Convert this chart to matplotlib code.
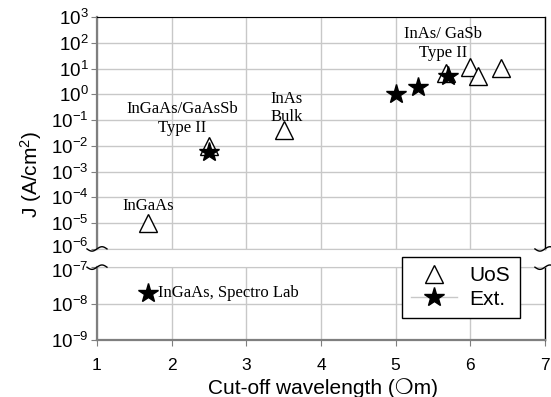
import numpy as np
import matplotlib
matplotlib.use('Agg')
import matplotlib.pyplot as plt
import matplotlib.transforms as mtransforms
from matplotlib.lines import Line2D

plt.rcParams['font.family'] = ['Liberation Sans', 'DejaVu Sans']
plt.rcParams['mathtext.fontset'] = 'custom'
plt.rcParams['mathtext.rm'] = 'Liberation Sans'
plt.rcParams['mathtext.it'] = 'Liberation Sans:italic'

# UoS devices (open triangles)
uos_x = [1.68, 2.5, 3.5, 5.67, 6.0, 6.1, 6.41]
uos_j = [1e-5, 1e-2, 0.04, 7.0, 12.0, 5.0, 11.0]

# external results (stars)
ext_x = [2.5, 5.0, 5.3, 5.7]
ext_j = [6e-3, 1.0, 2.0, 5.0]
ext_low_x = [1.68]
ext_low_j = [2e-8]

grid_col = '#c8c8c8'
spine_col = '#7f7f7f'

fig = plt.figure(figsize=(5.51, 3.97), dpi=100)
ax_top = fig.add_axes([0.176, 0.373, 0.813, 0.584])
ax_bot = fig.add_axes([0.176, 0.1436, 0.813, 0.1834])

for ax in (ax_top, ax_bot):
    ax.set_yscale('log')
    ax.set_xlim(1, 7)
    ax.set_xticks(range(1, 8))
    ax.grid(True, color=grid_col, lw=1.0)
    ax.set_axisbelow(True)
    ax.tick_params(axis='y', which='major', direction='out', length=4, color=spine_col,
                   labelsize=13.5, pad=2)
    ax.tick_params(axis='y', which='minor', left=False)
    ax.spines['left'].set_color(spine_col)
    ax.spines['left'].set_linewidth(1.6)
    ax.spines['right'].set_color('black')
    ax.spines['right'].set_linewidth(1.0)

ax_top.set_ylim(1e-6, 1e3)
ax_top.set_yticks([10.0 ** k for k in range(-6, 4)])
ax_top.tick_params(axis='x', bottom=False, labelbottom=False)
ax_top.spines['top'].set_color('black')
ax_top.spines['bottom'].set_color(grid_col)

ax_bot.set_ylim(1e-9, 1e-7)
ax_bot.set_yticks([1e-9, 1e-8, 1e-7])
ax_bot.tick_params(axis='x', direction='out', length=4, color=spine_col, labelsize=12.5, pad=9)
ax_bot.spines['top'].set_color(grid_col)
ax_bot.spines['bottom'].set_color(spine_col)
ax_bot.spines['bottom'].set_linewidth(1.6)

# nudge the two labels next to the break apart a little
fig.canvas.draw()
up = mtransforms.ScaledTranslation(0, 2 / 72, fig.dpi_scale_trans)
down = mtransforms.ScaledTranslation(0, -2 / 72, fig.dpi_scale_trans)
lab6 = ax_top.get_yticklabels()[0]
lab6.set_transform(lab6.get_transform() + up)
lab7 = ax_bot.get_yticklabels()[-1]
lab7.set_transform(lab7.get_transform() + down)

ax_top.plot(uos_x, uos_j, linestyle='none', marker='^', ms=13, mfc='white',
            mec='black', mew=1.0, zorder=3)
ax_top.plot(ext_x, ext_j, linestyle='none', marker='*', ms=15, color='black', zorder=4)
ax_bot.plot(ext_low_x, ext_low_j, linestyle='none', marker='*', ms=15, color='black', zorder=4)

serif = ['Liberation Serif', 'DejaVu Serif']
ax_top.text(1.68, 2.2e-5, 'InGaAs', family=serif, fontsize=12, ha='center', va='bottom')
ax_top.text(2.14, 0.025, 'InGaAs/GaAsSb\nType II', family=serif, fontsize=12,
            ha='center', va='bottom', linespacing=1.2)
ax_top.text(3.32, 0.065, 'InAs\nBulk', family=serif, fontsize=12,
            ha='left', va='bottom', linespacing=1.2)
ax_top.text(5.63, 20, 'InAs/ GaSb\nType II', family=serif, fontsize=12,
            ha='center', va='bottom', linespacing=1.2)
ax_bot.text(1.82, 2e-8, 'InGaAs, Spectro Lab', family=serif, fontsize=12,
            ha='left', va='center')

fig.text(0.056, 0.56, 'J (A/cm$^2$)', rotation=90, fontsize=15, ha='center', va='center')
fig.text(0.587, 0.008, 'Cut-off wavelength (\u274dm)', fontsize=15, ha='center',
         va='baseline', family=['Liberation Sans', 'DejaVu Sans'])

# small wavy break marks across the left and right spines
def brk(x, y, color):
    t = np.linspace(-1, 1, 30)
    xs = x + t * 10 / 551
    ys = y + np.sin(t * np.pi) * 2.2 / 397
    fig.add_artist(Line2D(xs, ys, color=color, lw=1.0, transform=fig.transFigure))

for yy in (0.373, 0.327):
    brk(0.176, yy, 'black')
    brk(0.989, yy, 'black')

handles = [
    Line2D([], [], linestyle='none', marker='^', ms=13, mfc='white', mec='black', mew=1.0),
    Line2D([], [], color=grid_col, lw=1.0, marker='*', ms=15, mfc='black', mec='black'),
]
leg = fig.legend(handles, ['UoS', 'Ext.'], loc='upper left', bbox_to_anchor=(0.7296, 0.3526),
                 fontsize=15, frameon=True, fancybox=False, edgecolor='black',
                 framealpha=1, handlelength=2.2, borderpad=0.45, labelspacing=0.2,
                 handletextpad=0.6, borderaxespad=0)
leg.get_frame().set_linewidth(1.0)

fig.savefig('out.png', dpi=100)
